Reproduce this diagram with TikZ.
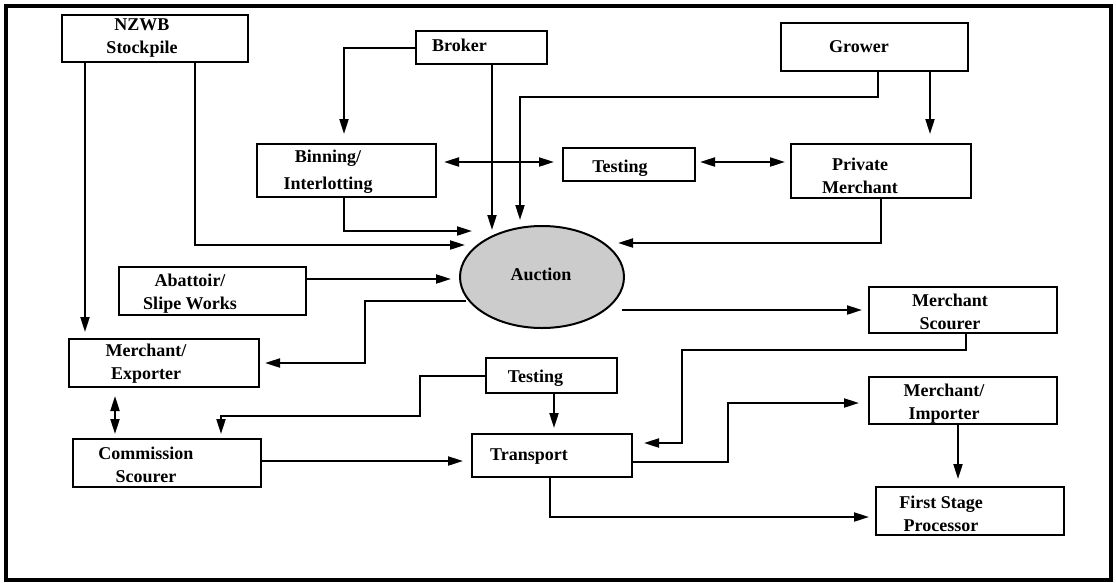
\documentclass[tikz,border=0pt]{standalone}
\usepackage{fontspec}
\setmainfont{Liberation Serif}
\usetikzlibrary{arrows.meta,shapes.geometric}

\begin{document}
\begin{tikzpicture}[x=1pt,y=-1pt,
  box/.style={draw, line width=2pt, inner sep=0pt},
  lbl/.style={font=\bfseries\fontsize{18}{23}\selectfont, align=center, inner sep=0pt},
  arr/.style={line width=2pt, -{Triangle[length=15pt,width=9pt]}},
  dbl/.style={line width=2pt, {Triangle[length=15pt,width=9pt]}-{Triangle[length=15pt,width=9pt]}}]
\useasboundingbox (0,0) rectangle (1116,582);

%Shape: Frame
\draw[line width=4pt] (5.5,6) rectangle (1110.5,580);

%Shape: Rectangle
\node[box, minimum width=186, minimum height=47] (nzwb) at (155,38.5) {};
\node[box, minimum width=131, minimum height=33] (broker) at (481.5,47.5) {};
\node[box, minimum width=187, minimum height=48] (grower) at (874.5,47) {};
\node[box, minimum width=179, minimum height=53] (binning) at (346.5,170.5) {};
\node[box, minimum width=132, minimum height=33] (test1) at (629,164.5) {};
\node[box, minimum width=180, minimum height=54] (privm) at (881,171) {};
\node[box, minimum width=187, minimum height=48] (abat) at (212.5,291) {};
\node[box, minimum width=188, minimum height=46] (mscour) at (963,310) {};
\node[box, minimum width=190, minimum height=48] (mexp) at (164,363) {};
\node[box, minimum width=131, minimum height=35] (test2) at (551.5,375.5) {};
\node[box, minimum width=188, minimum height=48] (comm) at (167,463) {};
\node[box, minimum width=160, minimum height=43] (trans) at (552,455.5) {};
\node[box, minimum width=188, minimum height=47] (mimp) at (963,400.5) {};
\node[box, minimum width=188, minimum height=48] (fsp) at (970,511) {};
%Shape: Ellipse
\node[draw, ellipse, line width=2pt, fill=black!20, inner sep=0pt,
      minimum width=164, minimum height=102] (auction) at (542,277) {};

% Text Node
\node[lbl] (tnzwb) at (142,38.5) {NZWB\\Stockpile};
\node[lbl, anchor=base] (tbroker) at (459.5,51) {Broker};
\node[lbl, anchor=base] (tgrower) at (859,52) {Grower};
\node[lbl] (tbinning) at (328,171.5) {Binning/\\[4pt]Interlotting};
\node[lbl, anchor=base] (ttest1) at (620,172) {Testing};
\node[lbl] (tprivm) at (860,175.5) {Private\\Merchant};
\node[lbl] (tabat) at (190,294) {Abattoir/\\Slipe Works};
\node[lbl, anchor=base] (tauction) at (541,280) {Auction};
\node[lbl] (tmscour) at (950,311.5) {Merchant\\Scourer};
\node[lbl] (tmexp) at (146,364) {Merchant/\\Exporter};
\node[lbl, anchor=base] (ttest2) at (535.5,382) {Testing};
\node[lbl] (tcomm) at (146,465) {Commission\\Scourer};
\node[lbl, anchor=base] (ttrans) at (529,460) {Transport};
\node[lbl] (tmimp) at (944,403.5) {Merchant/\\Importer};
\node[lbl] (tfsp) at (941,513.5) {First Stage\\Processor};

%Connectors
\draw[arr, shorten >=6] ([xshift=-70]nzwb.south) -- ([xshift=-79]mexp.north);
\draw[arr] ([xshift=40]nzwb.south) |- ([xshift=6,yshift=32]auction.west);
\draw[arr, shorten >=9] (broker.west) -| ([xshift=-2.5]binning.north);
\draw[arr] ([xshift=10.5]broker.south) -- ([xshift=-50,yshift=47]auction.center);
\draw[arr] ([xshift=3.5]grower.south) -- ([xshift=3.5,yshift=-25]grower.south) -| ([xshift=-22,yshift=57]auction.center);
\draw[arr, shorten >=9] ([xshift=55.5]grower.south) -- ([xshift=49]privm.north);
\draw[dbl, shorten <=7, shorten >=8] ([yshift=8.5]binning.east) -- ([yshift=2.5]test1.west);
\draw[dbl, shorten <=4, shorten >=5] ([yshift=2.5]test1.east) -- ([yshift=9]privm.west);
\draw[arr] ([xshift=-2.5]binning.south) |- ([xshift=13,yshift=46]auction.west);
\draw[arr] (privm.south) |- ([xshift=76,yshift=34]auction.center);
\draw[arr] ([yshift=12]abat.east) -- ([xshift=-8,yshift=-2]auction.west);
\draw[arr, shorten >=5] ([xshift=7,yshift=-24]auction.west) -| ([xshift=105]mexp.east) -- (mexp.east);
\draw[arr, shorten >=6] ([xshift=80,yshift=-33]auction.center) -- (mscour.west);
\draw[arr, shorten >=11] ([xshift=3]mscour.south) -- ([xshift=3,yshift=-16]mscour.south) -| ([xshift=49,yshift=12.5]trans.east) -- ([yshift=12.5]trans.east);
\draw[arr, shorten >=4] (test2.west) -- ([xshift=-65]test2.west) |- ([xshift=54,yshift=22]comm.north) -- ([xshift=54]comm.north);
\draw[arr, shorten >=5] ([xshift=2.5]test2.south) -- ([xshift=2]trans.north);
\draw[dbl, shorten <=8, shorten >=4] ([xshift=-49]mexp.south) -- ([xshift=-52]comm.north);
\draw[arr, shorten >=8] ([yshift=2]comm.east) -- ([yshift=-5.5]trans.west);
\draw[arr, shorten >=9] ([yshift=-6.5]trans.east) -- ([xshift=95,yshift=-6.5]trans.east) |- ([yshift=-2.5]mimp.west);
\draw[arr, shorten >=7] ([xshift=-5]mimp.south) -- ([xshift=-12]fsp.north);
\draw[arr, shorten >=6] ([xshift=-2]trans.south) |- ([yshift=-6]fsp.west);

\end{tikzpicture}
\end{document}
